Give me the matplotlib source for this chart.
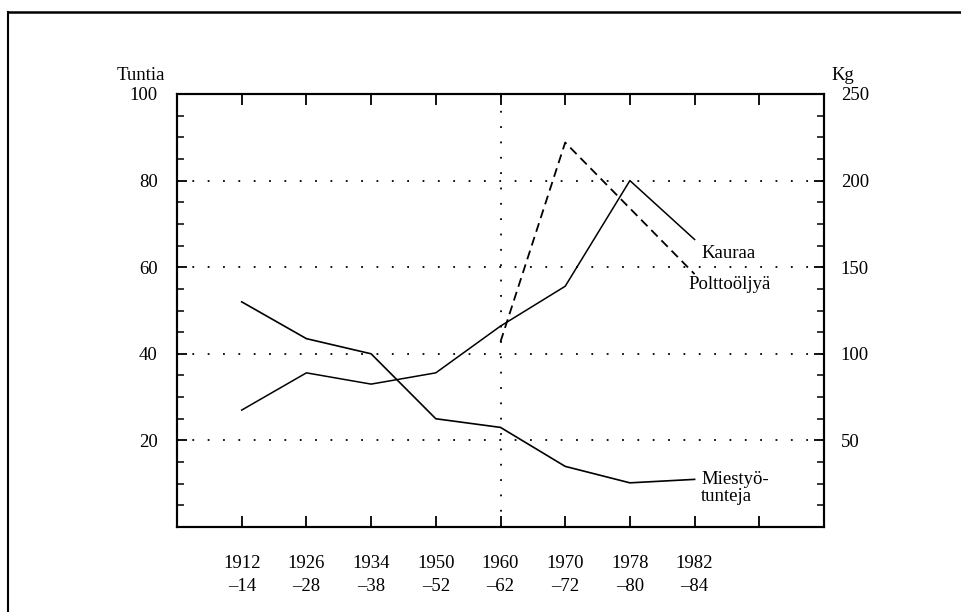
import numpy as np
import matplotlib
matplotlib.use("Agg")
import matplotlib.pyplot as plt
from matplotlib.lines import Line2D
from matplotlib.ticker import MultipleLocator

plt.rcParams['font.family'] = ['Liberation Serif', 'DejaVu Serif']

# data
periods = ["1912\n\u201314", "1926\n\u201328", "1934\n\u201338", "1950\n\u201352",
           "1960\n\u201362", "1970\n\u201372", "1978\n\u201380", "1982\n\u201384"]
miestyotunteja = [52, 43.5, 40, 25, 23, 14, 10.2, 11]          # Tuntia (left)
kauraa = [67.5, 89, 82.5, 89, 116, 139, 200, 166]               # Kg (right)
polttooljya_idx = [4, 5, 7]
polttooljya = [107, 222, 146]                                   # Kg (right)

x = np.arange(len(periods))
fs = 13.5

fig = plt.figure(figsize=(9.61, 6.12), dpi=100)
ax = fig.add_axes([177 / 961, 1 - 527 / 612, (824 - 177) / 961, (527 - 94) / 612])
ax2 = ax.twinx()

ax.set_xlim(-1, 9)
ax.set_ylim(0, 100)
ax2.set_ylim(0, 250)

dot = (0, (1, 7.5))
for yv in [20, 40, 60, 80]:
    ax.plot([-1, 9], [yv, yv], color='black', lw=1.3, linestyle=dot, zorder=1)
ax.plot([4, 4], [0, 100], color='black', lw=1.3, linestyle=dot, zorder=1)

ax.plot(x, miestyotunteja, color='black', lw=1.2)
ax2.plot(x, kauraa, color='black', lw=1.1)
ax2.plot(polttooljya_idx, polttooljya, color='black', lw=1.3, linestyle=(0, (5, 3)))

for s in ax.spines.values():
    s.set_linewidth(1.5)

ax.set_xticks(np.arange(0, 9))
ax.set_xticklabels(periods + [""], fontsize=fs, linespacing=1.5)
ax.tick_params(axis='x', which='major', direction='in', length=8, width=1.3,
               pad=20, top=True)
ax.tick_params(axis='x', which='major', labeltop=False)

ax.yaxis.set_minor_locator(MultipleLocator(5))
ax.set_yticks([20, 40, 60, 80, 100])
ax.tick_params(axis='y', which='major', direction='in', length=7, width=1.3,
               labelsize=fs, pad=14)
ax.tick_params(axis='y', which='minor', direction='in', length=5, width=1.1)

ax2.set_yticks([50, 100, 150, 200, 250])
ax2.yaxis.set_minor_locator(MultipleLocator(12.5))
ax2.tick_params(axis='y', which='major', direction='in', length=7, width=1.3,
                labelsize=fs, pad=12)
ax2.tick_params(axis='y', which='minor', direction='in', length=5, width=1.1)
for s in ax2.spines.values():
    s.set_linewidth(1.5)

fig.text(117 / 961, 1 - 76 / 612, "Tuntia", fontsize=fs, va='center', ha='left')
fig.text(831 / 961, 1 - 76 / 612, "Kg", fontsize=fs, va='center', ha='left')

ax2.text(7.1, 158, "Kauraa", fontsize=fs, va='center', ha='left')
ax2.text(6.9, 140, "Polttoöljyä", fontsize=fs, va='center', ha='left')
ax.text(7.1, 9, "Miestyö-\ntunteja", fontsize=fs, va='center', ha='left',
        linespacing=1.05)

# page frame (left and top edges of scanned box)
fig.add_artist(Line2D([8 / 961, 8 / 961], [0, 1 - 12 / 612], color='black', lw=1.5))
fig.add_artist(Line2D([8 / 961, 1], [1 - 12 / 612, 1 - 12 / 612], color='black', lw=1.8))

fig.savefig("out.png", dpi=100)
